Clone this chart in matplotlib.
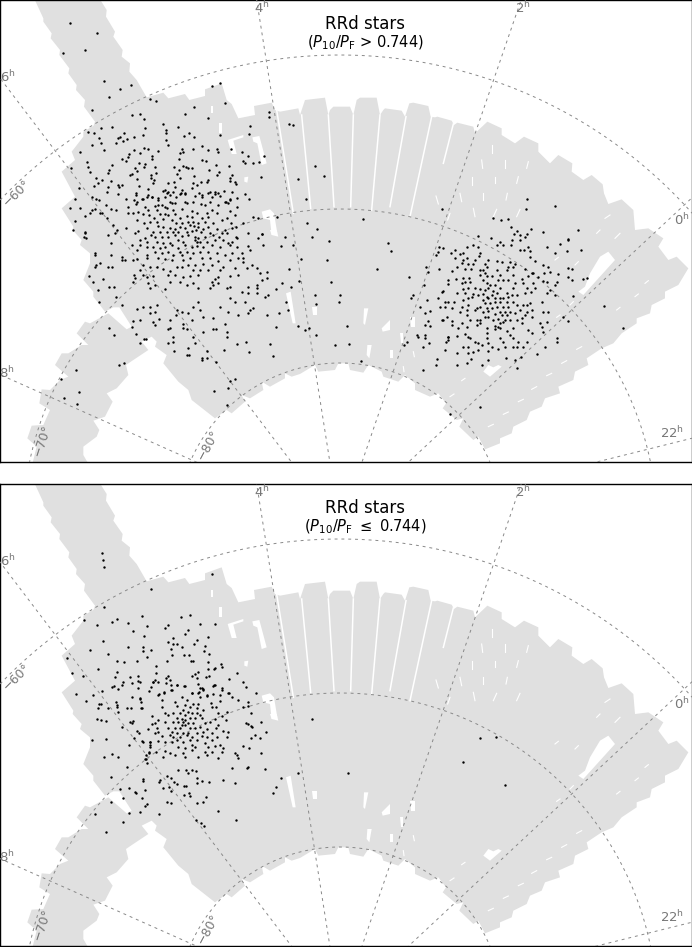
import numpy as np
import matplotlib
matplotlib.use("Agg")
import matplotlib.pyplot as plt

# everything is in units of 1/3 pixel of a panel, measured from its top left corner
panel_w = 2076
panel_h = 1386
pole = (1020, 1578)

ra_hours = [22, 0, 2, 4, 6, 8]
ra_angle = [-76.0, -47.0, -19.0, 9.0, 37.2, 66.0]
dec_radius = [489, 951, 1413]

footprint = [(100,-10),(295,-10),(320,30),(318,50),(345,95),(340,110),(368,150),(365,170),(390,190),(388,215),
 (410,240),(440,292),(490,278),(505,295),(555,282),(568,300),(615,288),(615,268),(665,250),(680,300),(695,312),
 (715,355),(765,345),(762,318),(815,308),(825,330),(840,335),(895,325),(900,345),(915,300),(975,293),(985,345),
 (990,330),(1000,320),(1050,320),(1060,345),(1070,300),(1080,293),(1130,293),(1140,345),(1150,330),(1155,325),
 (1205,332),(1215,350),(1228,310),(1240,308),(1285,318),(1292,350),(1305,352),(1312,350),(1355,362),(1362,375),
 (1372,368),(1420,380),(1425,400),(1462,365),(1505,385),(1505,405),(1545,430),(1572,410),(1615,430),(1615,455),
 (1650,490),(1675,465),(1717,490),(1715,515),(1750,540),(1775,525),(1808,553),(1812,580),(1825,612),(1865,598),
 (1900,630),(1905,690),(1945,685),(1990,715),(1975,740),(2005,780),(2030,770),(2065,805),(2035,855),(1995,875),
 (1995,895),(1955,915),(1950,940),(1910,955),(1910,970),(1865,1000),(1840,1030),(1805,1045),(1760,1075),(1765,1095),
 (1725,1115),(1720,1140),(1675,1160),(1680,1180),(1635,1195),(1625,1220),(1590,1235),(1580,1260),(1540,1280),
 (1535,1300),(1500,1315),(1500,1330),(1455,1348),(1435,1310),(1420,1320),(1378,1280),(1390,1255),(1370,1260),
 (1328,1225),(1338,1210),(1315,1180),(1290,1190),(1245,1170),(1245,1150),(1215,1125),(1195,1145),(1150,1130),
 (1145,1115),(1105,1095),(1090,1118),(1050,1110),(1045,1090),(1015,1090),(1005,1110),(955,1115),(945,1095),(900,1122),
 (875,1130),(855,1120),(855,1135),(810,1160),(785,1145),(790,1170),(750,1195),(725,1185),(735,1205),(695,1240),
 (680,1230),(645,1255),(575,1200),(565,1170),(535,1145),(490,1090),(500,1065),(465,1040),(470,1025),(455,1010),
 (435,1020),(425,1025),(445,1050),(400,1080),(378,1095),(385,1125),(350,1165),(320,1180),(338,1205),(315,1250),
 (280,1262),(298,1290),(290,1310),(250,1340),(250,1365),(270,1400),(95,1400),(110,1340),(82,1315),(95,1277),(130,1275),
 (150,1230),(118,1210),(125,1168),(150,1170),(180,1140),(205,1130),(165,1095),(185,1060),(205,1060),(245,1035),
 (265,1035),(230,1000),(255,965),(270,970),(325,940),(380,988),(395,980),(358,922),(340,922),(315,935),(280,890),
 (280,875),(250,840),(270,790),(270,760),(240,735),(245,720),(218,690),(220,680),(185,625),(225,590),(185,515),
 (225,480),(215,455),(250,410),(250,395),(280,378),(285,365),(252,320),(255,300),(228,270),(230,255),(205,220),
 (208,205),(178,165),(180,150),(152,115),(155,100),(130,65),(130,55)]

holes = [
 [(683,420),(730,405),(730,412),(700,422),(710,462),(695,462)],
 [(757,412),(778,408),(800,490),(785,495),(772,430),(760,425)],
 [(657,368),(665,368),(665,400),(658,400)],
 [(632,318),(640,318),(640,340),(633,340)],
 [(733,532),(745,530),(742,548),(733,545)],
 [(785,635),(810,628),(822,640),(832,700),(815,705),(810,660),(790,655)],
 [(810,690),(830,690),(835,710),(815,705)],
 [(858,880),(872,875),(887,970),(878,970)],
 [(1735,875),(1750,885),(1845,780),(1825,755),(1800,770),(1770,820),(1755,860)],
 [(1450,1115),(1470,1130),(1505,1100),(1495,1095),(1480,1102),(1465,1095)],
 [(937,922),(950,922),(950,945),(940,945)],
 [(1092,925),(1105,925),(1095,975),(1090,970)],
 [(1145,985),(1170,960),(1170,990),(1148,995)],
 [(1200,1000),(1210,1000),(1210,1030),(1202,1030)],
 [(1102,1035),(1115,1035),(1108,1075),(1100,1065)],
 [(1170,1050),(1180,1050),(1180,1075),(1170,1075)],
 [(1230,950),(1245,950),(1245,980),(1232,980)],
]

# x0, y0, x1, y1 of the long gaps between the field columns
column_gaps = [(830,330,880,640),(905,345,932,625),(985,345,1002,620),(1060,345,1052,620),(1140,345,1115,630),
 (1218,350,1170,620),(1295,350,1230,650),(1360,372,1330,490)]
# short white slashes between chips
slashes = [(1477,435,1477,460),(1445,480,1448,505),
 (1515,480,1515,505),(1585,485,1580,505),(1415,530,1415,555),(1485,530,1485,550),(1555,530,1550,550),
 (1380,580,1385,605),(1450,578,1450,600),(1522,580,1518,600),(1308,588,1315,612),(1420,625,1425,650),
 (1490,628,1480,650),(1560,628,1550,650),(1350,640,1343,660),(1815,655,1830,645),(1790,700,1800,690),
 (1845,715,1860,700),(1665,780,1675,772),(1725,795,1735,785),
 (1850,930,1860,922),(1935,850,1945,842),(1905,890,1915,882),(1710,915,1720,905),(1670,952,1680,945),
 (1730,1048,1745,1040),(1685,1090,1700,1082),(1640,1127,1655,1120),(1595,1168,1610,1160),(1555,1205,1570,1198),
 (1510,1243,1525,1236),(1465,1280,1480,1273),(1385,1142,1395,1135),(1350,1190,1362,1182),(1240,1055,1243,1070),
 (1210,1100,1212,1115)]

top_tail = [(210,68),(290,100),(254,150),(189,159),(313,243),(361,267),(392,254),(327,291),(277,330)]

top_upper = [(449,296),(467,302),(637,258),(659,250),(676,308),(581,320),(556,341),(625,353),(421,342),(395,346),
 (432,357),(489,372),(533,380),(499,390),(435,384),(336,380),(303,384),(264,396),(283,398),(749,379),(746,402),
 (659,405),(807,335),(807,350),(867,372),(879,376),(372,398),(360,410),(430,405),(403,410),(497,400),(567,398),
 (551,408),(581,412),(355,413),(349,430),(368,422),(380,418),(298,415),(302,430),(275,436),(311,450),(240,457),
 (497,420),(505,435),(606,437),(433,443),(403,450),(420,458),(445,448),(473,454),(456,468),(455,476),(547,447),
 (540,458),(549,457),(579,447),(625,450),(650,448),(654,456),(692,448),(726,456),(745,468),(728,482),(735,490),
 (758,488),(777,486),(793,468),(386,463),(385,470),(366,478),(379,482),(536,478),(605,481),(617,482),(260,485),
 (265,500),(213,503),(336,494),(417,490),(435,492),(433,500),(522,500),(548,498),(558,502),(565,503),(575,505),
 (647,495),(687,498),(269,517),(327,510),(323,519),(390,524),(397,523),(412,512),(405,505),(410,536),(452,524),
 (469,518),(466,500),(531,522),(537,510),(581,527),(628,510),(657,515),(650,525),(697,525),(691,533),(783,532),
 (893,537),(288,533),(307,540),(333,542),(452,535),(463,540),(503,548),(541,535),(522,545),(578,548),(603,545),
 (625,540),(620,545),(690,543),(705,547),(708,553),(283,558),(295,548),(353,555),(366,555),(357,562),(416,558),
 (460,550),(445,568),(525,560),(545,570),(592,555),(575,565),(238,563),(325,560),(320,575),(407,578),(495,570),
 (505,575),(510,585),(543,578),(555,582),(598,580),(625,578),(645,577),(655,580),(672,573),(697,575),(735,583),
 (225,597),(275,590),(288,597),(296,600),(353,583),(378,598),(410,605),(425,598),(440,590),(455,590),(473,595),
 (495,590),(527,590),(555,605),(605,590),(635,590),(678,605),(690,600),(748,597),(211,625),(241,623),(275,630),
 (285,628),(300,640),(270,638),(255,648),(225,663),(318,615),(333,628),(348,630),(320,655),(305,640),(220,690),
 (255,697),(253,710),(340,675),(350,690),(378,683),(345,700),(385,620),(383,640),(760,650),(773,655),
 (730,670),(708,712),(787,703),(855,712),(830,650)]

top_lower = [(255,700),(258,715),(284,760),(285,765),(288,795),(300,790),(286,800),(325,800),(335,800),(332,765),
 (332,730),(325,705),(268,828),(280,845),(308,837),(293,870),(328,862),(342,860),(347,890),(298,905),(365,772),
 (365,780),(375,780),(365,915),(410,927),(430,922),(450,920),
 (470,915),(465,935),(450,940),(398,962),(420,960),(460,965),(476,958),(465,975),(510,960),(510,985),(505,988),
 (395,982),(408,1002),(432,1018),(437,1018),(420,1028),
 (530,930),(528,945),(545,935),(565,940),(580,920),(595,905),(600,930),(610,950),(640,955),(660,920),(685,935),
 (715,945),(745,940),(750,930),(760,925),(735,905),(705,905),(690,895),(800,945),(838,940),(865,930),(858,905),
 (828,868),(845,850),(867,808),(872,862),(898,843),(828,980),(895,978),(810,1033),(818,1068),(738,1025),(747,1057),
 (712,1033),(673,1050),(682,1012),(680,995),(675,972),(640,987),(648,988),(610,995),(580,1010),(575,960),(548,973),
 (548,985),(560,988),(518,1010),(518,1025),(503,1028),(522,1052),(565,1045),(562,1065),(567,1065),(585,1030),
 (605,1075),(605,1080),(620,1073),(620,1053),(647,1087),(690,1143),(704,1137),(685,1165),(643,1172),(682,1216),
 (328,985),(343,1005),(357,1095),(372,1090),(229,1110),(182,1137),(236,1177),(192,1193),(231,1213),
 (770,855),(770,865),(745,860),(725,875),(745,880),(770,880),(795,890),(805,885),(730,785),(740,805),(755,795),
 (770,805),(780,820),(800,815),(800,835),(785,840),(743,738),(775,715),(787,702),(790,735),(843,738),(880,735),
 (745,698),(725,760),(750,750),(730,775)]

top_right_sparse = [(944,497),(972,527),(918,598),(922,668),(952,687),(937,710),(1090,658),(1327,628),(1580,597),
 (1665,617),(1577,628),(1480,654),(1503,660),(1525,656),(1532,680),(1552,694),(1593,688),(1630,695),(1735,690),
 (1543,703),(1560,706),(1580,703),(1435,707),(1473,715),(1705,717),(988,722),(1165,730),(1172,753),
 (982,780),(902,777),(1132,807),(994,847),(1227,832),(944,885),(1020,885),(1018,905),(948,912),(1042,977),(915,990),
 (928,985),(948,1005),(1005,1035),(1047,1032),(1083,1083),(1268,1110),(1310,1078),(1308,1095),(1220,1025),(1212,1035),
 (1272,855),(1285,815),(1278,800),(1317,807),(1318,740),(1330,745),(1315,755),(1307,765),(1238,885),(1233,895),
 (1280,900),(1260,922),(1290,932),(1275,940),(1283,962),(1275,975),(1290,978),(1252,1005),(1255,1012),(1276,1005),
 (1275,1015),(1287,1030),(1270,1042),(1337,1025),(1345,1012),(1336,1050),(1370,1060),(1390,1040),(1403,1040),
 (1370,1095),(1402,1088),(1412,1078),(1445,1095),(1465,1080),(1552,1105),(1563,1072),(1545,1080),(1518,1075),
 (1440,1220),(1350,1242),(1813,918),(1870,985),(1690,952),(1705,962),(1718,887),(1748,837),(1762,835),(1715,840),
 (1705,830),(1705,805),(1717,807),(1700,752),(1743,750),(1705,720),(1680,732),(1665,760),(1640,740),(1575,712),
 (1560,720),(1420,735),(1400,740),(1435,740),(1440,760),(1500,725),(1490,735),(1510,735),(1532,735),(1535,720),
 (1560,750),(1572,750),(1585,742),(1590,752),(1645,800),(1650,815),(1675,822),(1670,845),(1665,855),(1640,845),
 (1640,880),(1665,885),(1650,870),(1645,935),(1640,965),(1670,1015),(1672,1025),(1635,1040),(1612,1062),
 (1352,760),(1380,762),(1390,760),(1365,750),(1325,877),(1330,872),(1315,895),(1335,905),(1320,920),(1330,960),
 (1325,960),(1570,1042),(1550,1042),(1540,1040),(1515,1042),(1495,1048),(1475,1042),(1465,1052),(1445,1035),
 (1435,1050),(1420,1055),(1405,1060)]

# crops of the dense clusters, each with its own offset below
lmc_top_crop = [(18,15),(40,28),(55,15),(65,20),(100,3),(112,10),(130,5),(150,12),(165,8),(195,18),(215,15),(240,5),
 (255,12),(270,18),(285,35),(300,28),(320,25),(13,30),(85,30),(120,35),(18,42),(45,52),(75,48),(85,45),(95,45),
 (105,50),(125,40),(135,40),(170,40),(190,35),(212,42),(225,45),(240,35),(265,45),(295,40),(300,62),(8,68),(25,65),
 (55,60),(80,60),(110,55),(130,60),(155,58),(185,62),(200,70),(230,68),(245,60),(260,68),(320,50),(40,72),(58,75),
 (72,85),(90,72),(105,72),(115,75),(135,72),(150,85),(170,78),(185,80),(215,85),(235,80),(275,90),(292,85),(315,75),
 (20,90),(42,98),(60,95),(80,95),(100,88),(125,90),(138,100),(155,100),(175,95),(190,97),(205,100),(225,97),(250,100),
 (302,98),(85,108),(100,112),(120,115),(135,118),(150,110),(165,115),(180,105),(192,108),(205,112),(220,118),(235,112),
 (260,118),(285,120),(305,115),(50,115),(25,122),(70,125),(90,125),(110,125),(130,125),(145,125),(170,125),(185,122),
 (198,120),(212,125),(240,128),(275,128),(318,110),(62,135),(45,145),(30,150),(75,140),(95,140),(115,140),(135,135),
 (155,138),(175,135),(195,140),(205,145),(225,140),(250,135),(268,140),(290,130),(15,128),(50,155),(80,155),(100,158),
 (120,158),(145,150),(160,155),(195,150),(200,157),(210,155),(230,155),(255,150),(280,150),(305,155),(295,160),(320,145),
 (5,165),(30,165),(50,170),(70,170),(90,175),(105,172),(125,165),(145,175),(165,165),(185,170),(200,168),(220,170),
 (245,165),(270,170),(300,165),(320,170),(22,180),(75,185),(95,190),(115,185),(150,185),(170,185),(190,190),(210,185),
 (235,185),(260,190),(285,195),(305,190),(155,195),(50,195),(130,195),(20,208),(10,210),(50,205),(85,205),(105,208),
 (125,210),(160,210),(180,205),(215,205),(240,205),(265,212),(300,210),(325,205),(40,225),(60,230),(80,230),(140,230),
 (155,232),(175,225),(195,225),(220,222),(245,225),(280,230),(30,240),(100,238),(120,242),(190,240),(210,240),(235,240),
 (270,240),(315,235),(12,255),(15,265),(40,255),(50,262),(70,258),(115,255),(135,255),(160,260),(180,258),(205,255),
 (255,268),(265,262),(300,258),(325,255),(10,275),(55,280),(75,285),(120,275),(150,275),(170,285),(190,280),(245,275),
 (250,285),(265,280),(290,295),(60,295),(105,298),(205,295),(240,295),(300,292)]

smc_top_crop = [(30,10),(55,15),(65,8),(90,15),(103,3),(130,15),(155,18),(170,20),(195,20),(210,28),(255,5),(270,18),
 (295,30),(50,25),(68,28),(85,28),(120,28),(125,35),(190,35),(205,35),(240,42),(35,35),(20,47),(60,42),(78,43),(105,45),
 (115,45),(155,45),(185,45),(260,55),(265,55),(298,55),(120,55),(105,60),(125,62),(140,62),(165,60),(205,60),(250,62),
 (280,65),(295,78),(10,75),(32,72),(55,70),(72,70),(115,75),(160,75),(175,75),(190,75),(230,72),(75,80),(60,82),(50,85),
 (125,85),(135,90),(150,90),(210,85),(235,85),(265,85),(10,88),(90,100),(55,103),(70,100),(105,102),(120,105),(130,100),
 (145,108),(165,100),(205,100),(245,100),(270,98),(35,115),(60,115),(85,118),(100,120),(115,118),(125,125),(140,120),
 (155,115),(185,115),(200,120),(215,120),(240,115),(258,112),(55,135),(70,130),(80,125),(150,130),(165,130),(175,130),
 (190,125),(130,130),(115,135),(10,140),(28,140),(120,145),(135,145),(150,140),(165,142),(185,140),(205,140),(235,150),
 (245,150),(290,140),(20,158),(50,155),(70,150),(95,160),(105,155),(125,160),(140,160),(155,155),(175,155),(190,155),
 (215,150),(255,145),(0,155),(65,165),(90,165),(115,170),(130,168),(165,170),(180,170),(195,172),(225,165),(245,170),
 (260,165),(295,170),(5,185),(45,172),(65,180),(120,185),(130,185),(150,178),(170,180),(185,180),(210,175),(240,180),
 (260,185),(95,195),(105,195),(145,195),(160,192),(180,195),(195,195),(215,195),(230,190),(20,198),(50,205),(75,195),
 (105,205),(165,205),(175,200),(20,210),(65,215),(95,210),(150,212),(160,215),(165,220),(230,205),(285,205),(290,215),
 (40,220),(125,218),(185,228),(205,220),(250,225),(262,235),(150,222),(60,238),(70,245),(35,243),(125,235),(195,240),
 (205,248),(220,262),(245,260),(10,245),(10,255),(75,250),(90,262),(100,265),(125,248),(165,250),(175,260),(130,265),
 (295,232)]

bottom_extra = [(306,207),(309,228),(312,249),(453,315),(636,270),(936,705),(1044,867),(1389,834),(1440,762),
 (1515,903),(1488,759)]

bottom_crop = [(133,20),(72,60),(110,75),(155,67),(170,57),(203,68),(246,48),(262,77),(220,93),(252,108),(128,123),
 (90,150),(144,163),(204,142),(250,142),(250,153),(272,151),(260,172),(323,125),(338,115),(339,132),(352,133),
 (366,140),(332,148),(335,165),(322,182),(314,85),(324,76),(362,50),(390,44),(420,73),(466,73),(384,90),(376,103),
 (444,110),(412,120),(402,132),(436,138),(432,153),(447,163),(372,165),(387,165),(392,182),(400,183),(443,187),
 (465,205),(462,207),(482,192),(485,202),(443,207),(438,230),(447,228),(415,215),(405,222),(396,227),(410,233),
 (532,220),(507,237),(548,245),(557,261),(588,280),(20,173),(35,220),(70,228),(115,207),(172,184),(191,187),
 (230,184),(170,215),(166,230),(210,230),(235,227),(288,197),(288,218),(325,228),(318,235),(330,240),(278,245),
 (285,240),(295,247),(235,243),(240,245),(190,245),(185,255),(162,257),(155,260),(175,267),(233,265),(215,250),
 (125,272),(47,282),(98,285),(77,303),(217,290),(240,295),(243,305),(168,305),(172,315),(172,322),(118,312),
 (123,312),(113,325),(145,325),(200,325),(212,325),(243,323),(175,337),(110,358),(123,360),(137,363),(210,365),
 (220,362),(215,370),(187,382),(231,393),(236,400),(138,417),(97,420),(222,413),(245,423),(208,435),
 (157,462),(133,470),(174,470),(202,500),(153,530),(248,538),(250,542),(180,568),(208,563),(225,577),(228,580),
 (255,570),(188,594),(247,595),(153,605),(260,612),(255,618),(240,637),(207,640),(104,641),(188,665),(138,697),
 (296,643),(322,606),(332,608),(372,585),(388,580),(390,588),(410,610),(430,605),(437,592),(475,633),(407,660),
 (422,668),(432,677),(528,660),(638,578),(648,560),(663,535),(713,518),(615,508),(525,550),(488,541),(448,547),
 (425,543),(410,548),(410,535),(385,520),(378,510),(395,510),(408,513),(355,510),(320,527),(333,533),(300,540),
 (298,545),(342,546),(352,552),(372,557),(378,557),(308,563),(328,560),(332,574),(260,490),(268,460),(270,435),
 (270,425),(258,465),(258,477),(515,503),(560,505),(565,502),(530,465),(533,473),(550,437),(567,445),(525,460),
 (600,415),(585,405),(572,415),(602,460),(618,397),(603,367),(575,382),(558,368),(565,372),(572,378),(572,340),
 (550,320),(563,317),(565,307),(533,300),(515,292),(505,280),(487,270),(465,255),(460,257),(440,285),(428,268),
 (420,263),(415,280),(395,280),(375,258),(350,255),(332,270),(312,277),(298,283),(268,272),(305,300)]

lmc_bottom_crop = [(38,5),(32,20),(78,10),(92,15),(110,15),(133,18),(175,12),(185,25),(178,35),(190,30),(222,15),(245,25),
 (72,40),(55,45),(95,30),(155,40),(125,50),(180,50),(200,48),(218,42),(240,45),(268,40),(0,58),(65,82),(105,65),(140,60),
 (160,72),(175,72),(213,70),(240,62),(135,75),(110,78),(150,82),(130,90),(145,95),(170,85),(190,90),(215,80),(228,80),
 (5,85),(75,100),(85,105),(100,100),(120,100),(135,105),(155,100),(170,100),(180,105),(235,100),(260,95),(245,108),(35,108),
 (110,115),(125,118),(135,120),(150,115),(165,115),(185,115),(225,118),(258,120),(55,120),(75,125),(45,130),(35,132),
 (100,125),(115,125),(130,125),(145,130),(160,128),(125,135),(135,135),(195,130),(210,125),(235,135),(25,148),(50,145),
 (85,145),(105,145),(120,145),(150,145),(165,145),(180,140),(200,148),(228,145),(250,152),(95,155),(110,160),(45,158),
 (55,155),(130,158),(145,158),(170,158),(190,155),(215,160),(265,155),(90,165),(65,168),(100,170),(120,170),(140,165),
 (155,172),(185,168),(200,170),(230,170),(260,170),(110,180),(130,185),(150,180),(170,180),(215,180),(8,185),(30,185),
 (55,182),(75,185),(95,185),(240,195),(195,190),(155,195),(30,200),(115,200),(135,205),(165,200),(205,200),(225,198),
 (250,205),(28,215),(48,215),(75,212),(90,218),(130,218),(155,210),(195,215),(215,215),(245,215),(70,232),(105,225),
 (135,232),(175,230),(200,225),(15,238),(235,235)]

top_stars = np.vstack([np.array(top_tail + top_upper + top_lower + top_right_sparse, dtype=float),
                       np.array(lmc_top_crop, dtype=float) + [390, 570],
                       np.array(smc_top_crop, dtype=float) + [1335, 765]])
bottom_stars = np.vstack([np.array(bottom_crop, dtype=float) + [180, 348],
                          np.array(lmc_bottom_crop, dtype=float) + [420, 588],
                          np.array(bottom_extra, dtype=float)])

ra_labels = [(2015, 1300, "22"), (2046, 660, "0"), (1568, 25, "2"), (786, 25, "4"), (24, 232, "6"), (20, 1120, "8")]
dec_labels = [(50, 578, "\u221260\u00b0", 45), (128, 1320, "\u221270\u00b0", 72), (625, 1335, "\u221280\u00b0", 62)]


def draw_panel(ax, stars, subtitle):
    ax.fill(*zip(*footprint), color="#e0e0e0", lw=0, zorder=1)
    for h in holes:
        ax.fill(*zip(*h), color="white", lw=0, zorder=2)
    for x0, y0, x1, y1 in column_gaps:
        ax.plot([x0, x1], [y0, y1], color="white", lw=1.1, zorder=2)
    for x0, y0, x1, y1 in slashes:
        ax.plot([x0, x1], [y0, y1], color="white", lw=0.8, zorder=2)

    for a in ra_angle:
        t = np.radians(a)
        ax.plot([pole[0], pole[0] - 3000 * np.sin(t)], [pole[1], pole[1] - 3000 * np.cos(t)],
                color="#888888", lw=0.7, ls=(0, (3, 4)), zorder=3)
    t = np.radians(np.linspace(-120, 120, 600))
    for r in dec_radius:
        ax.plot(pole[0] - r * np.sin(t), pole[1] - r * np.cos(t),
                color="#888888", lw=0.7, ls=(0, (3, 4)), zorder=3)

    ax.scatter(stars[:, 0], stars[:, 1], s=3, c="black", lw=0, zorder=4)

    for x, y, s in ra_labels:
        ax.text(x, y, s + r"$^{\rm h}$", color="#777777", fontsize=9.5, ha="center", va="center", zorder=5)
    for x, y, s, rot in dec_labels:
        ax.text(x, y, s, color="#777777", fontsize=9, rotation=rot, ha="center", va="center", zorder=5)
    ax.text(1095, 72, "RRd stars", fontsize=12, ha="center", va="center", zorder=5)
    ax.text(1095, 129, subtitle, fontsize=10.5, ha="center", va="center", zorder=5)

    ax.set_xlim(0, panel_w)
    ax.set_ylim(panel_h, 0)
    ax.set_xticks([])
    ax.set_yticks([])
    for s in ax.spines.values():
        s.set_linewidth(1.0)


fig = plt.figure(figsize=(6.92, 9.47), dpi=100)
ax1 = fig.add_axes([0.0, 1 - 462 / 947, 1.0, 462 / 947])
ax2 = fig.add_axes([0.0, 1 - 946 / 947, 1.0, 462 / 947])

draw_panel(ax1, top_stars, r"($P_{10}/P_{\rm F}$ > 0.744)")
draw_panel(ax2, bottom_stars, r"($P_{10}/P_{\rm F}$ $\leq$ 0.744)")

fig.savefig("out.png", dpi=100)
